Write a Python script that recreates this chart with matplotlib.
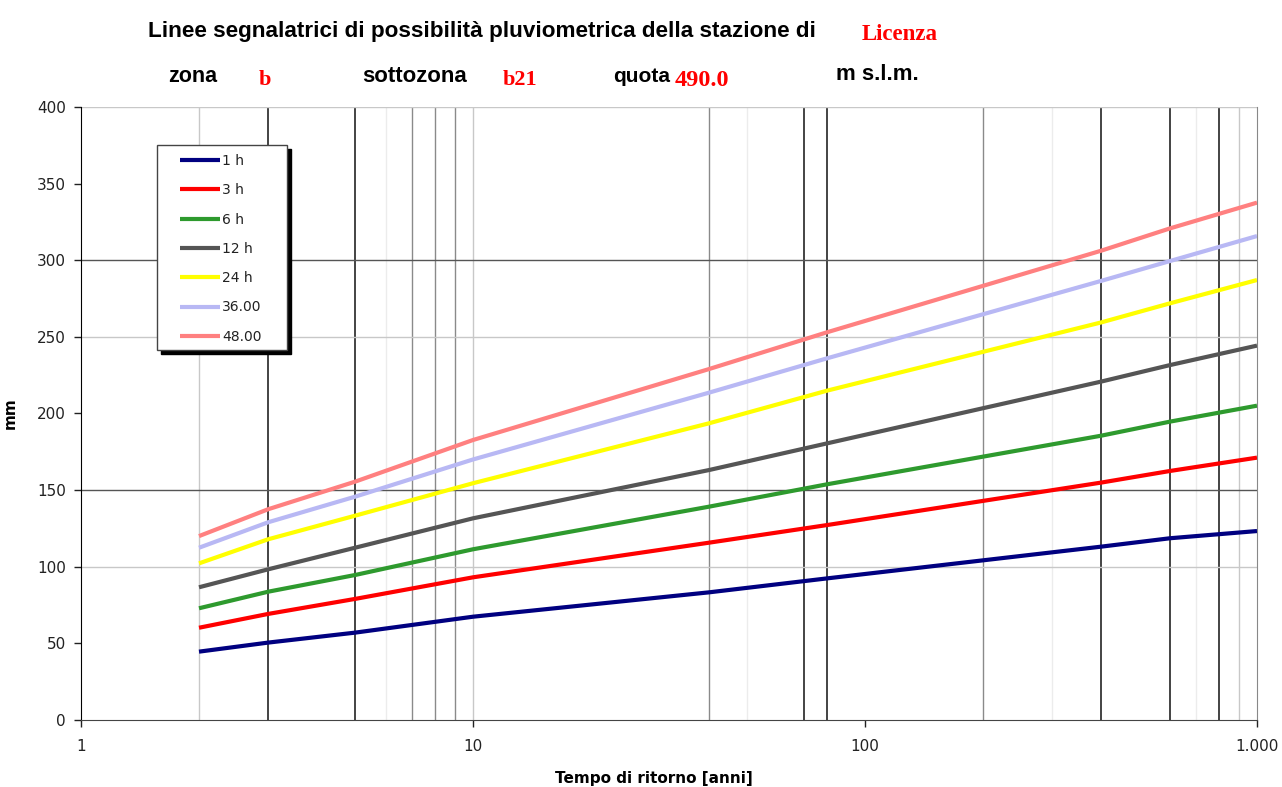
import matplotlib
matplotlib.use("Agg")
import matplotlib.pyplot as plt
from matplotlib.patches import Rectangle
from matplotlib.ticker import FixedLocator, FuncFormatter, NullLocator

# return periods (years)
T = [2, 3, 5, 10, 40, 80, 400, 600, 1000]

# rainfall depth (mm) for each duration
h_1 = [44.6, 50.5, 57.0, 67.4, 83.3, 92.4, 113.1, 118.6, 123.3]
h_3 = [60.2, 69.2, 79.0, 93.1, 115.7, 127.2, 154.9, 162.5, 171.2]
h_6 = [72.9, 83.7, 94.6, 111.4, 139.2, 153.8, 185.5, 194.7, 205.1]
h_12 = [86.6, 98.3, 112.4, 131.6, 163.1, 180.5, 220.8, 231.6, 244.3]
h_24 = [102.2, 117.9, 133.3, 154.5, 193.6, 214.9, 259.4, 271.9, 287.1]
h_36 = [112.4, 129.0, 145.7, 170.0, 213.6, 236.0, 286.5, 299.5, 315.8]
h_48 = [120.0, 137.5, 155.5, 182.7, 229.0, 253.0, 306.2, 320.8, 337.6]

labels = ["1 h", "3 h", "6 h", "12 h", "24 h", "36.00", "48.00"]
colors = ["#000080", "#ff0000", "#2e9a2e", "#555555", "#ffff00", "#b8b8f4", "#ff8080"]

# vertical grid lines as they appear in the original sheet
vl_dark = [3, 5, 70, 80, 400, 600, 800]
vl_mid = [7, 8, 9, 40, 200]
vl_light = [2, 10, 900]
vl_faint = [6, 50, 300, 700]
hl_dark = [150, 300]
hl_light = [100, 250, 400]

W, H = 1282, 787
fig = plt.figure(figsize=(W / 100, H / 100), dpi=100)
ax = fig.add_axes([81 / W, 1 - 720 / H, 1176 / W, 613 / H])

for v in vl_faint:
    ax.axvline(v, color="#ececec", lw=1, zorder=1)
for v in vl_light:
    ax.axvline(v, color="#c8c8c8", lw=1, zorder=1)
for v in vl_mid:
    ax.axvline(v, color="#8a8a8a", lw=1, zorder=1)
for v in vl_dark:
    ax.axvline(v, color="#111111", lw=1.1, zorder=1)
for v in hl_light:
    ax.axhline(v, color="#c8c8c8", lw=1, zorder=1)
for v in hl_dark:
    ax.axhline(v, color="#555555", lw=1, zorder=1)

series = [h_1, h_3, h_6, h_12, h_24, h_36, h_48]
for vals, lab, col in zip(series, labels, colors):
    ax.plot(T, vals, color=col, lw=3, label=lab, zorder=3, solid_capstyle="butt")

ax.set_xscale("log")
ax.set_xlim(1, 1000)
ax.set_ylim(0, 400)
ax.xaxis.set_major_locator(FixedLocator([1, 10, 100, 1000]))
ax.xaxis.set_minor_locator(NullLocator())
ax.xaxis.set_major_formatter(FuncFormatter(lambda v, p: f"{int(v):,}".replace(",", ".")))
ax.set_yticks(range(0, 401, 50))

ax.spines["top"].set_visible(False)
ax.spines["right"].set_color("#888888")
ax.spines["left"].set_color("black")
ax.spines["bottom"].set_color("#444444")
ax.tick_params(axis="both", direction="out", length=5, width=1, labelsize=11,
               colors="#222222", pad=6)
ax.tick_params(axis="x", pad=9)

ax.set_ylabel("mm", fontsize=11, fontweight="bold")
ax.yaxis.set_label_coords(-0.054, 0.5)
ax.set_xlabel("Tempo di ritorno [anni]", fontsize=11, fontweight="bold")
ax.xaxis.set_label_coords(0.487, -0.083)

# legend box with a solid black drop shadow
bx0, by0, bw, bh = 157, 145, 130, 205
ax.add_patch(Rectangle(((bx0 + 4) / W, 1 - (by0 + bh + 4) / H), bw / W, bh / H,
                       transform=fig.transFigure, facecolor="black",
                       edgecolor="black", zorder=4, clip_on=False))
ax.add_patch(Rectangle((bx0 / W, 1 - (by0 + bh) / H), bw / W, bh / H,
                       transform=fig.transFigure, facecolor="white",
                       edgecolor="#444444", lw=1, zorder=5, clip_on=False))
leg = ax.legend(loc="upper left", bbox_to_anchor=(180 / W, 1 - 154 / H),
                bbox_transform=fig.transFigure, fontsize=10, frameon=False,
                borderpad=0, labelspacing=1.1, handlelength=2.9,
                handletextpad=0.15, borderaxespad=0)
leg.set_zorder(6)
for t in leg.get_texts():
    t.set_color("#222222")

# header texts
sans = "Liberation Sans"
serif = "Liberation Serif"
fig.text(148 / W, 1 - 32 / H, "Linee segnalatrici di possibilità pluviometrica della stazione di",
         fontsize=16.2, fontweight="bold", family=sans, va="center")
fig.text(862 / W, 1 - 34 / H, "Licenza", fontsize=16.5, fontweight="bold",
         family=serif, color="red", va="center")
fig.text(168 / W, 1 - 77 / H, "zona", fontsize=15.5, fontweight="bold", family=sans, va="center")
fig.text(259 / W, 1 - 80 / H, "b", fontsize=16, fontweight="bold", family=serif, color="red", va="center")
fig.text(362 / W, 1 - 77 / H, "sottozona", fontsize=16, fontweight="bold", family=sans, va="center")
fig.text(503 / W, 1 - 80 / H, "b21", fontsize=16, fontweight="bold", family=serif, color="red", va="center")
fig.text(613 / W, 1 - 77 / H, "quota", fontsize=15, fontweight="bold", family=sans, va="center")
fig.text(675 / W, 1 - 80 / H, "490.0", fontsize=17.5, fontweight="bold", family=serif, color="red", va="center")
fig.text(836 / W, 1 - 75 / H, "m s.l.m.", fontsize=16, fontweight="bold", family=sans, va="center")

fig.savefig("out.png", dpi=100, facecolor="white")
